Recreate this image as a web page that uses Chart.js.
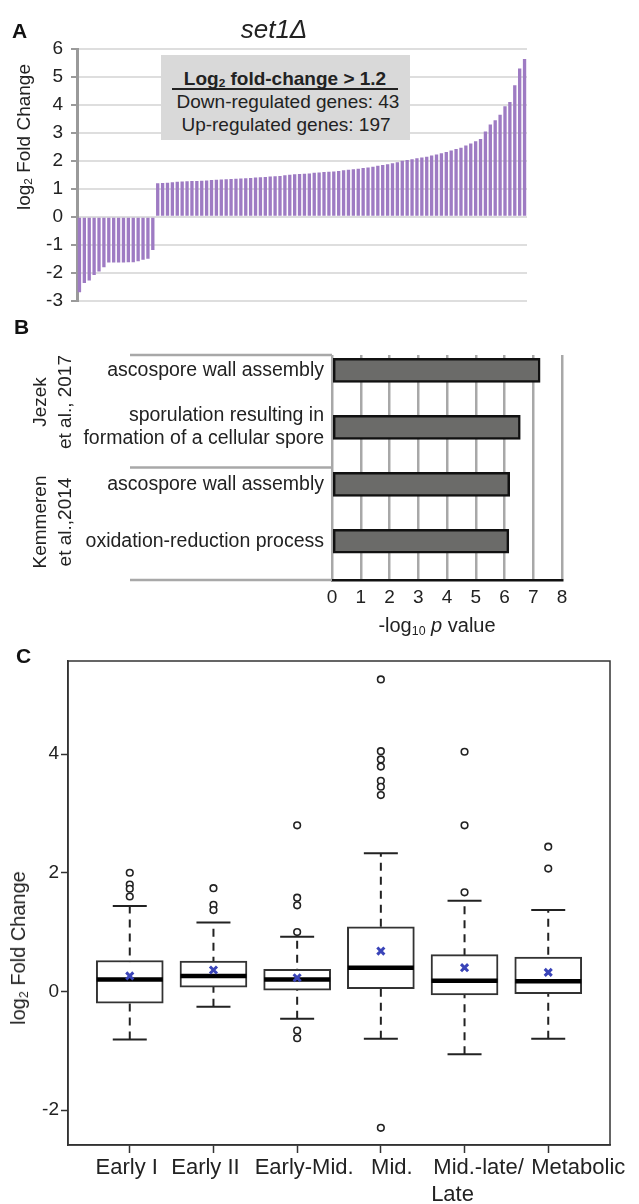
<!DOCTYPE html>
<html>
<head>
<meta charset="utf-8">
<script src="https://cdn.jsdelivr.net/npm/chart.js@4.4.0/dist/chart.umd.min.js"></script>
<style>
  body { margin: 0; background: #fff; }
  #page { position: relative; width: 639px; height: 1204px; overflow: hidden;
          font-family: 'Liberation Sans', Arial, sans-serif; color: #222; }
  canvas { position: absolute; left: 0; }
  .txt { position: absolute; white-space: nowrap; line-height: 1; }
  .letter { font-weight: bold; font-size: 21px; color: #111; }
  .rot { transform: translate(-50%, -50%) rotate(-90deg); text-align: center; }
  .ctr { transform: translate(-50%, -50%); text-align: center; }
  sub { font-size: 0.62em; vertical-align: -0.25em; line-height: 0; }
  #summary { position: absolute; left: 161px; top: 55px; width: 249px; height: 85px; background: #d9d9d9; }
</style>
</head>
<body>
<div id="page">
  <canvas id="chartA" width="639" height="320" style="top:0"></canvas>
  <canvas id="chartB" width="639" height="300" style="top:330px"></canvas>
  <canvas id="chartC" width="639" height="564" style="top:640px"></canvas>

  <!-- panel A text -->
  <div class="txt letter" style="left:12px; top:20px;">A</div>
  <div class="txt ctr" style="left:274px; top:29px; font-size:26px; font-style:italic;">set1&Delta;</div>
  <div class="txt rot" style="left:23px; top:137px; font-size:19px;">log<sub>2</sub> Fold Change</div>
  <div id="summary"></div>
  <div class="txt ctr" style="left:285px; top:78px; font-size:19px; font-weight:bold;">Log<sub>2</sub> fold-change &gt; 1.2</div>
  <div style="position:absolute; left:172px; top:88px; width:226px; height:2px; background:#222;"></div>
  <div class="txt ctr" style="left:288px; top:101px; font-size:19px;">Down-regulated genes: 43</div>
  <div class="txt ctr" style="left:286px; top:124px; font-size:19px;">Up-regulated genes: 197</div>

  <!-- panel B text -->
  <div class="txt letter" style="left:14px; top:316px;">B</div>
  <div class="txt rot" style="left:52px; top:402px; font-size:19px; line-height:25px;">Jezek<br>et al., 2017</div>
  <div class="txt rot" style="left:52px; top:522px; font-size:19px; line-height:25px;">Kemmeren<br>et al.,2014</div>
  <div class="txt ctr" style="left:437px; top:625px; font-size:20px;">-log<sub>10</sub> <i>p</i> value</div>

  <!-- panel C text -->
  <div class="txt letter" style="left:16px; top:645px;">C</div>
  <div class="txt rot" style="left:18px; top:948px; font-size:20px;">log<sub>2</sub> Fold Change</div>
</div>

<script>
// Global chart configuration
Chart.defaults.font.family = "'Liberation Sans', Arial, sans-serif";
Chart.defaults.color = '#222';
Chart.defaults.responsive = false;
Chart.defaults.animation = false;
Chart.defaults.plugins.legend.display = false;
Chart.defaults.plugins.tooltip.enabled = false;

// ---- Panel A: sorted log2 fold changes (set1 delta) ----
const downValues = [-2.7, -2.37, -2.28, -2.08, -1.96, -1.81, -1.64, -1.64, -1.64, -1.64,
                    -1.63, -1.63, -1.59, -1.54, -1.5, -1.19];
const upValues = [1.2, 1.21, 1.22, 1.23, 1.25,
                  1.26, 1.27, 1.28, 1.28, 1.29, 1.3, 1.31, 1.32, 1.33, 1.34, 1.35, 1.36,
                  1.37, 1.38, 1.39, 1.4, 1.41, 1.42, 1.44, 1.45, 1.46, 1.48,
                  1.5, 1.52, 1.53, 1.54, 1.55, 1.57, 1.58, 1.6, 1.61, 1.62, 1.64, 1.66,
                  1.68, 1.7, 1.72, 1.74, 1.76, 1.79, 1.82, 1.85, 1.88, 1.91, 1.95, 2.0,
                  2.03, 2.06, 2.09, 2.12, 2.15, 2.19, 2.23, 2.27,
                  2.32, 2.37, 2.42, 2.47, 2.55, 2.62, 2.7, 2.78,
                  3.05, 3.3, 3.45, 3.65, 3.95, 4.1, 4.7, 5.3, 5.64];
const foldTicksA = { min: -3, max: 6, step: 1 };

// ---- Panel B: GO enrichment ----
const goTerms = ['ascospore wall assembly',
                 ['sporulation resulting in', 'formation of a cellular spore'],
                 'ascospore wall assembly',
                 'oxidation-reduction process'];
const goLogP = [7.24, 6.55, 6.18, 6.15];

// ---- Panel C: box plots per expression stage ----
const stages = ['Early I', 'Early II', 'Early-Mid.', 'Mid.', ['Mid.-late/', 'Late'], 'Metabolic'];
const boxQ1 = [-0.2, 0.07, 0.02, 0.045, -0.06, -0.04];
const boxQ3 = [0.52, 0.51, 0.37, 1.09, 0.62, 0.58];
const boxMedian = [0.2, 0.26, 0.2, 0.4, 0.18, 0.17];
const boxMean = [0.26, 0.36, 0.23, 0.68, 0.4, 0.32];
const whiskerLow = [-0.81, -0.26, -0.46, -0.8, -1.06, -0.8];
const whiskerHigh = [1.44, 1.16, 0.92, 2.33, 1.53, 1.37];
const outliers = [
    [2.0, 1.8, 1.73, 1.6],
    [1.74, 1.46, 1.37],
    [2.8, 1.58, 1.45, 1.0, -0.66, -0.79],
    [5.26, 4.05, 3.91, 3.79, 3.55, 3.45, 3.31, -2.3],
    [4.04, 2.8, 1.67],
    [2.44, 2.07]
];

// Chart A
const foldValues = downValues.concat(upValues);
new Chart(document.getElementById('chartA'), {
    type: 'bar',
    data: {
        labels: foldValues.map((v, i) => i + 1),
        datasets: [{
            data: foldValues,
            backgroundColor: '#9e7bc3',
            barPercentage: 0.68,
            categoryPercentage: 1
        }]
    },
    options: {
        layout: { padding: { top: 49, right: 112, bottom: 18, left: 0 } },
        scales: {
            x: { display: false },
            y: {
                min: foldTicksA.min,
                max: foldTicksA.max,
                ticks: { stepSize: foldTicksA.step, font: { size: 19 }, color: '#222', padding: 8 },
                grid: { color: '#dedede', lineWidth: 2, tickLength: 6, tickColor: '#9a9a9a', tickWidth: 2 },
                border: { color: '#9a9a9a', width: 3 },
                afterFit(scale) { scale.width = 77; }
            }
        }
    }
});

// Chart B: gray group frame to the left of the plot
const groupFrame = {
    id: 'groupFrame',
    afterDraw(chart) {
        const { ctx, chartArea: a } = chart;
        ctx.save();
        ctx.strokeStyle = '#a8a8a8';
        ctx.lineWidth = 2.5;
        [a.top, (a.top + a.bottom) / 2, a.bottom].forEach(y => {
            ctx.beginPath();
            ctx.moveTo(130, y);
            ctx.lineTo(a.left, y);
            ctx.stroke();
        });
        ctx.restore();
    }
};

new Chart(document.getElementById('chartB'), {
    type: 'bar',
    data: {
        datasets: [{
            data: goLogP.map((v, i) => ({ x: v, y: i })),
            backgroundColor: '#6b6b69',
            borderColor: '#111',
            borderWidth: 2.5,
            borderSkipped: false,
            barThickness: 24
        }]
    },
    options: {
        indexAxis: 'y',
        layout: { padding: { top: 25, right: 77, bottom: 0, left: 0 } },
        scales: {
            x: {
                min: 0, max: 8,
                ticks: { stepSize: 1, font: { size: 19 }, color: '#222', padding: 6 },
                grid: { color: '#a8a8a8', lineWidth: 2.5, drawTicks: false },
                border: { color: '#111', width: 2.5 },
                afterFit(scale) { scale.height = 50; }
            },
            y: {
                type: 'linear',
                reverse: true,
                offset: false,
                min: -0.27, max: 3.68,
                afterBuildTicks(axis) { axis.ticks = goTerms.map((t, i) => ({ value: i })); },
                ticks: {
                    autoSkip: false,
                    callback: (v) => goTerms[v],
                    font: { size: 19.5, lineHeight: 1.2 },
                    color: '#222',
                    padding: 8
                },
                grid: { display: false, drawTicks: false, offset: false },
                border: { display: false },
                afterFit(scale) { scale.width = 332; }
            }
        }
    },
    plugins: [groupFrame]
});

// Chart C: frame round the plot, and stage names under the ticks
const plotFrame = {
    id: 'plotFrame',
    afterDraw(chart) {
        const { ctx, chartArea: a } = chart;
        ctx.save();
        ctx.strokeStyle = '#333';
        ctx.lineWidth = 1.5;
        ctx.strokeRect(a.left, a.top, a.right - a.left, a.bottom - a.top);
        ctx.restore();
    }
};

// labels in the original are pushed apart so they do not collide
const labelNudge = [-3, -8, 7, 11, [14, -12], 30];
const stageLabels = {
    id: 'stageLabels',
    afterDraw(chart) {
        const { ctx, chartArea: a } = chart;
        const x = chart.scales.x;
        ctx.save();
        ctx.font = "22px 'Liberation Sans', Arial, sans-serif";
        ctx.fillStyle = '#222';
        ctx.textAlign = 'center';
        ctx.textBaseline = 'middle';
        stages.forEach((s, i) => {
            const lines = [].concat(s);
            const nudge = [].concat(labelNudge[i]);
            lines.forEach((line, j) => {
                const dx = nudge[j] !== undefined ? nudge[j] : nudge[0];
                ctx.fillText(line, x.getPixelForValue(i + 1) + dx, a.bottom + 23 + j * 27);
            });
        });
        ctx.restore();
    }
};

const whiskerPoints = stages.flatMap((s, i) => [
    { x: i + 1, y: whiskerLow[i] }, { x: i + 1, y: whiskerHigh[i] }, { x: i + 1, y: null }
]);
const capPoints = stages.flatMap((s, i) => [
    { x: i + 1, y: whiskerLow[i] }, { x: i + 1, y: whiskerHigh[i] }
]);
const outlierPoints = outliers.flatMap((list, i) => list.map(v => ({ x: i + 1, y: v })));

new Chart(document.getElementById('chartC'), {
    type: 'bar',
    data: {
        datasets: [{
            type: 'line',
            data: whiskerPoints,
            borderColor: '#222',
            borderWidth: 2,
            borderDash: [8, 6],
            pointRadius: 0,
            spanGaps: false,
            order: 5
        }, {
            type: 'bar',
            data: stages.map((s, i) => ({ x: i + 1, y: [boxQ1[i], boxQ3[i]] })),
            backgroundColor: '#fff',
            borderColor: '#333',
            borderWidth: 2,
            borderSkipped: false,
            barThickness: 67,
            order: 4
        }, {
            type: 'line',
            data: capPoints,
            showLine: false,
            pointStyle: 'line',
            pointRadius: 17,
            pointBorderWidth: 2,
            pointBorderColor: '#222',
            order: 3
        }, {
            type: 'line',
            data: stages.map((s, i) => ({ x: i + 1, y: boxMedian[i] })),
            showLine: false,
            pointStyle: 'line',
            pointRadius: 33,
            pointBorderWidth: 4.5,
            pointBorderColor: '#000',
            order: 2
        }, {
            type: 'line',
            data: outlierPoints,
            showLine: false,
            pointStyle: 'circle',
            pointRadius: 3.3,
            pointBorderWidth: 1.6,
            pointBackgroundColor: '#fff',
            pointBorderColor: '#222',
            order: 1
        }, {
            type: 'line',
            data: stages.map((s, i) => ({ x: i + 1, y: boxMean[i] })),
            showLine: false,
            pointStyle: 'crossRot',
            pointRadius: 5,
            pointBorderWidth: 3,
            pointBorderColor: '#3a44b8',
            order: 0
        }]
    },
    options: {
        // the wide median markers would otherwise shrink the plot area
        layout: { autoPadding: false, padding: { top: 21, right: 29, bottom: 0, left: 0 } },
        scales: {
            x: {
                type: 'linear',
                offset: false,
                min: 0.262, max: 6.738,
                afterBuildTicks(axis) { axis.ticks = stages.map((s, i) => ({ value: i + 1 })); },
                ticks: { autoSkip: false, maxRotation: 0, callback: () => '' },
                grid: { offset: false, drawOnChartArea: false, tickLength: 8, tickColor: '#333', tickWidth: 1.5 },
                border: { color: '#333', width: 1.5 },
                afterFit(scale) { scale.height = 59; }
            },
            y: {
                min: -2.59, max: 5.57,
                ticks: { stepSize: 2, includeBounds: false, font: { size: 19 }, color: '#222', padding: 2 },
                grid: { drawOnChartArea: false, tickLength: 7, tickColor: '#333', tickWidth: 1.5 },
                border: { color: '#333', width: 1.5 },
                afterFit(scale) { scale.width = 68; }
            }
        }
    },
    plugins: [plotFrame, stageLabels]
});
</script>
</body>
</html>
